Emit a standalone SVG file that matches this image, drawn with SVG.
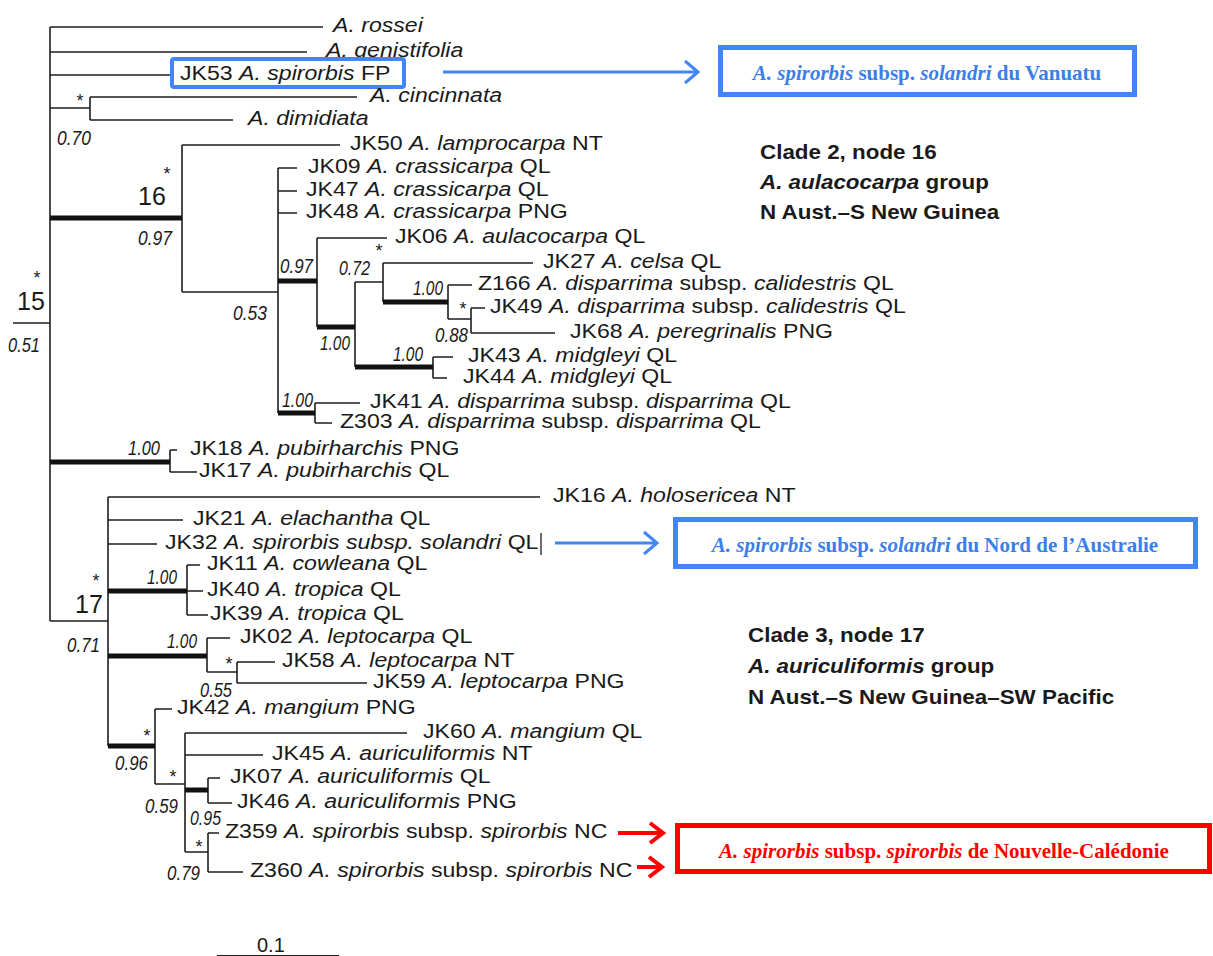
<svg xmlns="http://www.w3.org/2000/svg" width="1213" height="956" viewBox="0 0 1213 956">
<defs>
<style>
.t{font-family:"Liberation Sans",Arial,sans-serif;font-size:21px;fill:#1a1a1a}
.i{font-style:italic}
.s{font-family:"Liberation Sans",Arial,sans-serif;font-size:20px;font-style:italic;fill:#1a1a1a}
.n{font-family:"Liberation Sans",Arial,sans-serif;font-size:25px;fill:#1a1a1a}
.st{font-family:"Liberation Sans",Arial,sans-serif;font-size:18px;fill:#1a1a1a;text-anchor:middle}
.b{font-family:"Liberation Sans",Arial,sans-serif;font-size:20px;font-weight:bold;fill:#1a1a1a}
.c{font-family:"Liberation Serif","Times New Roman",serif;font-size:21px;font-weight:bold;text-anchor:middle}
.thin{fill:none;stroke:#1e1e1e;stroke-width:1.6}
.thick{fill:none;stroke:#111;stroke-width:5}
.blue{fill:none;stroke:#4285f4;stroke-width:5}
.red{fill:none;stroke:#ff0000;stroke-width:5}
</style>
<marker id="chevB" markerUnits="userSpaceOnUse" markerWidth="20" markerHeight="26" refX="16" refY="13" orient="auto" viewBox="0 0 20 26">
<path d="M3,2 L16,13 L3,24" fill="none" stroke="#4285f4" stroke-width="3"/>
</marker>
<marker id="chevR" markerUnits="userSpaceOnUse" markerWidth="20" markerHeight="26" refX="16" refY="13" orient="auto" viewBox="0 0 20 26">
<path d="M3,3 L16,13 L3,23" fill="none" stroke="#ff0000" stroke-width="4"/>
</marker>
</defs>
<rect width="1213" height="956" fill="#ffffff"/>

<g id="connectors">
<path class="thin" d="M50,27 V621 M50,27 H323 M50,52 H307 M50,75 H170 M50,108 H90 M90,97 V120 M90,97 H357 M90,120 H233 M13,323 H50
M182,145 V292 M182,145 H340 M182,292 H278 M278,168 V413 M278,168 H297 M278,191 H297 M278,213 H297
M317,238 V327 M317,238 H387 M355,282 V367 M355,282 H383 M383,263 V302 M383,263 H533
M448,285 V319 M448,285 H472 M448,319 H471 M471,308 V333 M471,308 H485 M471,333 H555
M433,357 V378 M433,357 H453 M433,378 H447 M315,403 V423 M315,403 H360 M315,423 H332
M170,450 V472 M170,450 H177 M170,472 H197
M50,621 H108 M108,497 V746 M108,497 H540 M108,520 H183 M108,544 H157
M187,565 V615 M187,565 H200 M187,591 H203 M187,615 H208
M207,638 V672 M207,638 H230 M207,672 H237 M237,662 V683 M237,662 H275 M237,683 H367
M155,709 V784 M155,709 H172 M155,784 H185 M185,733 V852 M185,733 H407 M185,755 H263
M208,778 V803 M208,778 H220 M208,803 H232 M185,852 H208 M208,833 V872 M208,833 H219 M208,872 H243"/>
<path class="thick" d="M50,218 H182 M278,281 H317 M317,327 H355 M383,302 H448 M355,367 H433 M278,413 H315 M50,462 H170 M108,591 H187 M108,656 H207 M108,746 H155 M185,790 H208"/>
<path d="M541,533 V555" fill="none" stroke="#1e1e1e" stroke-width="1.3"/>
<path d="M443,72 H698" fill="none" stroke="#4285f4" stroke-width="3" marker-end="url(#chevB)"/>
<path d="M555,543 H657" fill="none" stroke="#4285f4" stroke-width="3" marker-end="url(#chevB)"/>
<path d="M618,833 H663" fill="none" stroke="#ff0000" stroke-width="4" marker-end="url(#chevR)"/>
<path d="M637,867 H662" fill="none" stroke="#ff0000" stroke-width="4" marker-end="url(#chevR)"/>
<path d="M217,955.5 H339" fill="none" stroke="#1e1e1e" stroke-width="1.2"/>
</g>

<g id="taxa">
<g id="rossei"><text class="t i" transform="matrix(1.1,0,0,1,333,32)">A. rossei</text></g>
<g id="genistifolia"><text class="t i" transform="matrix(1.1,0,0,1,326,57)">A. genistifolia</text></g>
<g id="JK53"><rect x="172" y="59" width="232" height="28" rx="2" fill="none" stroke="#4285f4" stroke-width="4"/><text class="t" transform="matrix(1.1,0,0,1,180,80)">JK53 <tspan class="i">A. spirorbis</tspan> FP</text></g>
<g id="cincinnata"><text class="t i" transform="matrix(1.1,0,0,1,370,102)">A. cincinnata</text></g>
<g id="dimidiata"><text class="t i" transform="matrix(1.1,0,0,1,248,125)">A. dimidiata</text></g>
<g id="JK50"><text class="t" transform="matrix(1.1,0,0,1,350,150)">JK50 <tspan class="i">A. lamprocarpa</tspan> NT</text></g>
<g id="JK09"><text class="t" transform="matrix(1.1,0,0,1,308,173)">JK09 <tspan class="i">A. crassicarpa</tspan> QL</text></g>
<g id="JK47"><text class="t" transform="matrix(1.1,0,0,1,306,196)">JK47 <tspan class="i">A. crassicarpa</tspan> QL</text></g>
<g id="JK48"><text class="t" transform="matrix(1.1,0,0,1,306,218)">JK48 <tspan class="i">A. crassicarpa</tspan> PNG</text></g>
<g id="JK06"><text class="t" transform="matrix(1.1,0,0,1,395,243)">JK06 <tspan class="i">A. aulacocarpa</tspan> QL</text></g>
<g id="JK27"><text class="t" transform="matrix(1.1,0,0,1,543,268)">JK27 <tspan class="i">A. celsa</tspan> QL</text></g>
<g id="Z166"><text class="t" transform="matrix(1.1,0,0,1,478,290)">Z166 <tspan class="i">A. disparrima</tspan> subsp. <tspan class="i">calidestris</tspan> QL</text></g>
<g id="JK49"><text class="t" transform="matrix(1.1,0,0,1,490,313)">JK49 <tspan class="i">A. disparrima</tspan> subsp. <tspan class="i">calidestris</tspan> QL</text></g>
<g id="JK68"><text class="t" transform="matrix(1.1,0,0,1,570,338)">JK68 <tspan class="i">A. peregrinalis</tspan> PNG</text></g>
<g id="JK43"><text class="t" transform="matrix(1.1,0,0,1,468,362)">JK43 <tspan class="i">A. midgleyi</tspan> QL</text></g>
<g id="JK44"><text class="t" transform="matrix(1.1,0,0,1,463,383)">JK44 <tspan class="i">A. midgleyi</tspan> QL</text></g>
<g id="JK41"><text class="t" transform="matrix(1.1,0,0,1,370,408)">JK41 <tspan class="i">A. disparrima</tspan> subsp. <tspan class="i">disparrima</tspan> QL</text></g>
<g id="Z303"><text class="t" transform="matrix(1.1,0,0,1,340,428)">Z303 <tspan class="i">A. disparrima</tspan> subsp. <tspan class="i">disparrima</tspan> QL</text></g>
<g id="JK18"><text class="t" transform="matrix(1.1,0,0,1,190,455)">JK18 <tspan class="i">A. pubirharchis</tspan> PNG</text></g>
<g id="JK17"><text class="t" transform="matrix(1.1,0,0,1,199,477)">JK17 <tspan class="i">A. pubirharchis</tspan> QL</text></g>
<g id="JK16"><text class="t" transform="matrix(1.1,0,0,1,553,502)">JK16 <tspan class="i">A. holosericea</tspan> NT</text></g>
<g id="JK21"><text class="t" transform="matrix(1.1,0,0,1,193,525)">JK21 <tspan class="i">A. elachantha</tspan> QL</text></g>
<g id="JK32"><text class="t" transform="matrix(1.1,0,0,1,165,549)">JK32 <tspan class="i">A. spirorbis subsp. solandri</tspan> QL</text></g>
<g id="JK11"><text class="t" transform="matrix(1.1,0,0,1,207,570)">JK11 <tspan class="i">A. cowleana</tspan> QL</text></g>
<g id="JK40"><text class="t" transform="matrix(1.1,0,0,1,207,596)">JK40 <tspan class="i">A. tropica</tspan> QL</text></g>
<g id="JK39"><text class="t" transform="matrix(1.1,0,0,1,210,620)">JK39 <tspan class="i">A. tropica</tspan> QL</text></g>
<g id="JK02"><text class="t" transform="matrix(1.1,0,0,1,240,643)">JK02 <tspan class="i">A. leptocarpa</tspan> QL</text></g>
<g id="JK58"><text class="t" transform="matrix(1.1,0,0,1,282,667)">JK58 <tspan class="i">A. leptocarpa</tspan> NT</text></g>
<g id="JK59"><text class="t" transform="matrix(1.1,0,0,1,373,688)">JK59 <tspan class="i">A. leptocarpa</tspan> PNG</text></g>
<g id="JK42"><text class="t" transform="matrix(1.1,0,0,1,177,714)">JK42 <tspan class="i">A. mangium</tspan> PNG</text></g>
<g id="JK60"><text class="t" transform="matrix(1.1,0,0,1,423,738)">JK60 <tspan class="i">A. mangium</tspan> QL</text></g>
<g id="JK45"><text class="t" transform="matrix(1.1,0,0,1,272,760)">JK45 <tspan class="i">A. auriculiformis</tspan> NT</text></g>
<g id="JK07"><text class="t" transform="matrix(1.1,0,0,1,230,783)">JK07 <tspan class="i">A. auriculiformis</tspan> QL</text></g>
<g id="JK46"><text class="t" transform="matrix(1.1,0,0,1,237,808)">JK46 <tspan class="i">A. auriculiformis</tspan> PNG</text></g>
<g id="Z359"><text class="t" transform="matrix(1.1,0,0,1,225,838)">Z359 <tspan class="i">A. spirorbis</tspan> subsp. <tspan class="i">spirorbis</tspan> NC</text></g>
<g id="Z360"><text class="t" transform="matrix(1.1,0,0,1,250,877)">Z360 <tspan class="i">A. spirorbis</tspan> subsp. <tspan class="i">spirorbis</tspan> NC</text></g>
</g>

<g id="support">
<text class="s" x="57" y="145" textLength="34" lengthAdjust="spacingAndGlyphs">0.70</text>
<text class="s" x="138" y="245" textLength="34" lengthAdjust="spacingAndGlyphs">0.97</text>
<text class="s" x="233" y="320" textLength="34" lengthAdjust="spacingAndGlyphs">0.53</text>
<text class="s" x="280" y="273" textLength="33" lengthAdjust="spacingAndGlyphs">0.97</text>
<text class="s" x="339" y="275" textLength="31" lengthAdjust="spacingAndGlyphs">0.72</text>
<text class="s" x="320" y="350" textLength="30" lengthAdjust="spacingAndGlyphs">1.00</text>
<text class="s" x="413" y="295" textLength="30" lengthAdjust="spacingAndGlyphs">1.00</text>
<text class="s" x="435" y="342" textLength="33" lengthAdjust="spacingAndGlyphs">0.88</text>
<text class="s" x="393" y="361" textLength="30" lengthAdjust="spacingAndGlyphs">1.00</text>
<text class="s" x="282" y="407" textLength="31" lengthAdjust="spacingAndGlyphs">1.00</text>
<text class="s" x="128" y="455" textLength="32" lengthAdjust="spacingAndGlyphs">1.00</text>
<text class="s" x="8" y="352" textLength="32" lengthAdjust="spacingAndGlyphs">0.51</text>
<text class="s" x="67" y="652" textLength="33" lengthAdjust="spacingAndGlyphs">0.71</text>
<text class="s" x="147" y="584" textLength="30" lengthAdjust="spacingAndGlyphs">1.00</text>
<text class="s" x="167" y="648" textLength="30" lengthAdjust="spacingAndGlyphs">1.00</text>
<text class="s" x="200" y="697" textLength="32" lengthAdjust="spacingAndGlyphs">0.55</text>
<text class="s" x="115" y="770" textLength="33" lengthAdjust="spacingAndGlyphs">0.96</text>
<text class="s" x="145" y="813" textLength="33" lengthAdjust="spacingAndGlyphs">0.59</text>
<text class="s" x="190" y="825" textLength="31" lengthAdjust="spacingAndGlyphs">0.95</text>
<text class="s" x="167" y="880" textLength="33" lengthAdjust="spacingAndGlyphs">0.79</text>
<text class="n" x="17" y="310">15</text>
<text class="n" x="138" y="205">16</text>
<text class="n" x="75" y="613">17</text>
<text class="st" x="80" y="107">*</text>
<text class="st" x="167" y="180">*</text>
<text class="st" x="37" y="284">*</text>
<text class="st" x="379" y="257">*</text>
<text class="st" x="463" y="315">*</text>
<text class="st" x="96" y="587">*</text>
<text class="st" x="229" y="670">*</text>
<text class="st" x="147" y="742">*</text>
<text class="st" x="173" y="783">*</text>
<text class="st" x="199" y="853">*</text>
<text class="t" x="257" y="952" style="font-size:20px">0.1</text>
</g>

<g id="clade2">
<text class="b" transform="matrix(1.12,0,0,1,760,159)">Clade 2, node 16</text>
<text class="b" transform="matrix(1.12,0,0,1,760,189)"><tspan class="i">A. aulacocarpa</tspan> group</text>
<text class="b" transform="matrix(1.12,0,0,1,760,219)">N Aust.–S New Guinea</text>
</g>
<g id="clade3">
<text class="b" transform="matrix(1.12,0,0,1,748,642)">Clade 3, node 17</text>
<text class="b" transform="matrix(1.12,0,0,1,748,673)"><tspan class="i">A. auriculiformis</tspan> group</text>
<text class="b" transform="matrix(1.12,0,0,1,748,704)">N Aust.–S New Guinea–SW Pacific</text>
</g>

<g id="callout-vanuatu">
<rect class="blue" x="720.5" y="47.5" width="414" height="47"/>
<text class="c" x="927" y="80" fill="#3b7fe8"><tspan class="i">A. spirorbis</tspan> subsp. <tspan class="i">solandri</tspan> du Vanuatu</text>
</g>
<g id="callout-australie">
<rect class="blue" x="675.5" y="519.5" width="520" height="47"/>
<text class="c" x="935" y="552" fill="#3b7fe8"><tspan class="i">A. spirorbis</tspan> subsp. <tspan class="i">solandri</tspan> du Nord de l’Australie</text>
</g>
<g id="callout-caledonie">
<rect class="red" x="677.5" y="825.5" width="532" height="46"/>
<text class="c" x="944" y="858" fill="#ff0000"><tspan class="i">A. spirorbis</tspan> subsp. <tspan class="i">spirorbis</tspan> de Nouvelle-Calédonie</text>
</g>
</svg>
